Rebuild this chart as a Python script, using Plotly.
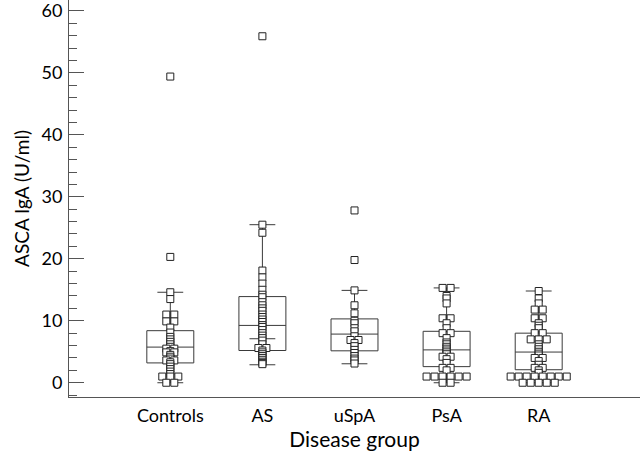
import plotly.graph_objects as go
from collections import Counter

# ---- data ----
categories = ["Controls", "AS", "uSpA", "PsA", "RA"]

controls = [49.4, 20.3, 14.6, 13.5, 11.0, 11.0, 9.9, 9.9, 8.9, 8.1, 7.4, 7.0, 6.6, 6.2,
            5.8, 5.5, 5.5, 5.1, 4.9, 4.9, 4.5, 4.2, 3.9, 3.6, 3.6, 3.3, 3.0, 2.6, 2.2,
            1.8, 1.4, 1.0, 1.0, 1.0, 0.0, 0.0]
as_vals = [55.9, 25.5, 24.2, 18.1, 17.0, 16.0, 15.0, 14.2, 13.8, 13.0, 12.5, 12.0, 11.6,
           11.0, 10.6, 10.2, 9.8, 9.3, 9.0, 8.5, 8.0, 7.6, 7.2, 6.8, 6.2, 5.6, 5.6, 5.2,
           4.9, 4.6, 4.3, 4.0, 3.7, 3.4, 3.2, 3.0]
uspa = [27.8, 19.8, 14.9, 12.5, 11.2, 10.0, 9.6, 8.8, 8.3, 7.5, 6.9, 6.9, 6.4, 5.9, 5.3,
        4.8, 4.3, 3.9, 3.6, 3.1]
psa = [15.3, 15.3, 14.0, 13.6, 12.8, 10.4, 10.4, 9.6, 8.8, 8.0, 8.0, 7.2, 6.5, 6.2, 5.8,
       5.5, 5.2, 4.9, 4.6, 4.2, 4.2, 3.8, 3.2, 2.4, 2.4, 2.0,
       1.0, 1.0, 1.0, 1.0, 1.0, 1.0, 0.0, 0.0]
ra = [14.8, 13.6, 12.8, 11.8, 11.8, 10.4, 10.4, 9.6, 9.2, 8.8, 8.0, 8.0, 7.0, 7.0, 7.0,
      6.2, 5.8, 5.4, 5.0, 4.7, 4.4, 4.0, 4.0, 3.5, 2.9, 2.4, 2.4, 2.0, 1.6,
      1.0, 1.0, 1.0, 1.0, 1.0, 1.0, 1.0, 1.0, 0.0, 0.0, 0.0, 0.0, 0.0]
groups = [controls, as_vals, uspa, psa, ra]

# box statistics
q1 = [3.2, 5.2, 5.15, 2.6, 2.1]
median = [5.75, 9.25, 7.85, 5.3, 4.95]
q3 = [8.4, 13.9, 10.3, 8.3, 8.0]
lower_fence = [0.0, 2.9, 3.06, 0.0, 0.0]
upper_fence = [14.6, 25.5, 14.9, 15.3, 14.8]
as_extra_line = 7.1

y_ticks = [0, 10, 20, 30, 40, 50, 60]

# ---- figure ----
LINE = "#3a3a3a"
AXIS = "#555555"
FONT = "Lato"
box_width = 0.51
step = 0.087  # horizontal spacing of tied points (marker width in x units)

fig = go.Figure()

positions = list(range(len(categories)))
fig.add_trace(go.Box(
    x=positions, q1=q1, median=median, q3=q3,
    lowerfence=lower_fence, upperfence=upper_fence,
    width=box_width, whiskerwidth=0.55,
    boxpoints=False, fillcolor="rgba(0,0,0,0)",
    line=dict(color=LINE, width=1), showlegend=False, hoverinfo="skip",
))

# extra short line in AS group
fig.add_trace(go.Scatter(
    x=[1 - box_width * 0.55 / 2, 1 + box_width * 0.55 / 2],
    y=[as_extra_line, as_extra_line], mode="lines",
    line=dict(color=LINE, width=1), showlegend=False, hoverinfo="skip",
))

# dot plot: tied values placed side by side
for i, vals in enumerate(groups):
    counts = Counter(vals)
    seen = Counter()
    xs, ys = [], []
    for v in vals:
        n = counts[v]
        k = seen[v]
        seen[v] += 1
        xs.append(i + (k - (n - 1) / 2) * step)
        ys.append(v)
    fig.add_trace(go.Scatter(
        x=xs, y=ys, mode="markers",
        marker=dict(symbol="square", size=7, color="white",
                    line=dict(color="#222222", width=1)),
        showlegend=False, hoverinfo="y", cliponaxis=False,
    ))

fig.update_layout(
    width=640, height=455,
    margin=dict(l=69, r=0, t=0, b=58),
    paper_bgcolor="white", plot_bgcolor="white",
    font=dict(family=FONT, color="black"),
)
fig.update_xaxes(
    range=[-1.1, 5.1], tickvals=positions, ticktext=categories,
    showgrid=False, zeroline=False, showline=True, linecolor=AXIS, linewidth=1,
    ticks="", tickfont=dict(size=18), automargin=False, ticklabelstandoff=2,
    title=dict(text="Disease group", font=dict(size=21), standoff=7),
)
fig.update_yaxes(
    range=[-2.3, 61.75], tickvals=y_ticks,
    showgrid=False, zeroline=False, showline=True, linecolor=AXIS, linewidth=1,
    ticks="inside", ticklen=15, tickcolor=AXIS, tickwidth=1,
    minor=dict(dtick=2, tick0=0, ticks="inside", ticklen=8, tickcolor=AXIS, tickwidth=1),
    tickfont=dict(size=18), ticklabelstandoff=2, automargin=False,
    ticklabeloverflow="allow",
    title=dict(text="ASCA IgA (U/ml)", font=dict(size=19), standoff=6),
)

fig.write_html("out.html", config={"displayModeBar": False},
               post_script="document.body.style.margin='0';")
